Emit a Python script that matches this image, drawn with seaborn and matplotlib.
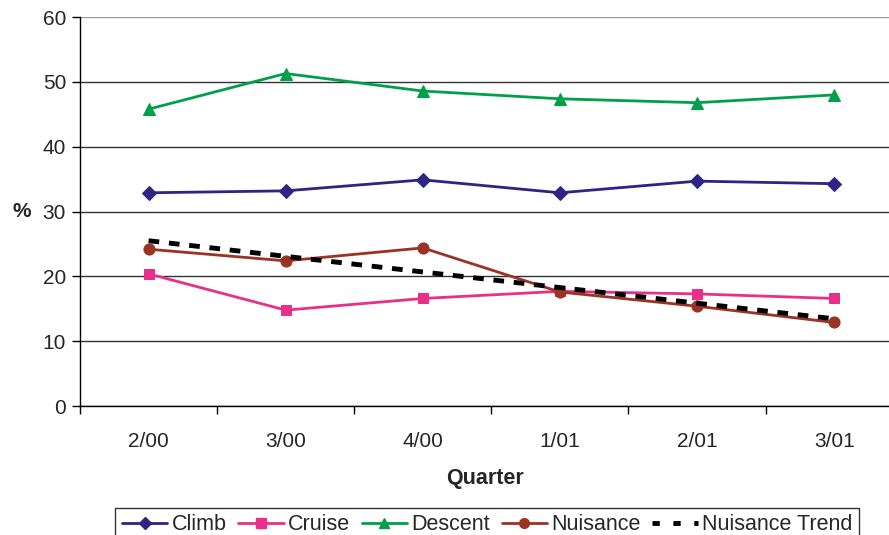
import numpy as np
import pandas as pd
import seaborn as sns
import matplotlib.pyplot as plt
from matplotlib.lines import Line2D

# values
quarters = ["2/00", "3/00", "4/00", "1/01", "2/01", "3/01"]
climb = [32.9, 33.2, 34.9, 32.9, 34.7, 34.3]
cruise = [20.4, 14.8, 16.6, 17.7, 17.3, 16.6]
descent = [45.8, 51.3, 48.6, 47.4, 46.8, 48.0]
nuisance = [24.2, 22.4, 24.4, 17.6, 15.4, 12.9]

idx = np.arange(len(quarters))
# linear trend of the nuisance series (like the Excel trendline)
slope, intercept = np.polyfit(idx, nuisance, 1)
nuisance_trend = intercept + slope * idx

sns.set_style("white")
plt.rcParams["font.family"] = ["Liberation Sans", "DejaVu Sans"]

fig = plt.figure(figsize=(8.89, 5.35), dpi=100)
ax = fig.add_axes([0.09, 0.241, 0.91, 0.727])

series = [
    ("Climb", climb, "#2E2483", "D", 7),
    ("Cruise", cruise, "#E8308A", "s", 7.5),
    ("Descent", descent, "#00A04A", "^", 8),
    ("Nuisance", nuisance, "#9B3324", "o", 8),
]
handles = []
for name, vals, col, mk, ms in series:
    sns.lineplot(x=idx, y=vals, ax=ax, color=col, marker=mk, markersize=ms,
                 markeredgecolor=col, linewidth=2)
    handles.append(Line2D([], [], color=col, marker=mk, markersize=ms - 1,
                          markeredgecolor=col, linewidth=2, label=name))

sns.lineplot(x=idx, y=nuisance_trend, ax=ax, color="black", linewidth=3.5,
             linestyle=(0, (2.2, 2)))
handles.append(Line2D([], [], color="black", linewidth=3.5,
                      linestyle=(0, (1.5, 2.8)), label="Nuisance Trend"))

ax.set_ylim(0, 60)
ax.set_xlim(-0.5, 5.4)
ax.set_yticks(range(0, 61, 10))
ax.yaxis.grid(True, color="#333333", linewidth=1)
ax.get_ygridlines()[-1].set_color("#999999")
ax.set_axisbelow(True)

# category labels centred, tick marks between categories
ax.set_xticks(np.arange(-0.5, 5.5, 1))
ax.set_xticklabels([])
ax.set_xticks(idx, minor=True)
ax.set_xticklabels(quarters, minor=True)
ax.tick_params(axis="x", which="major", direction="out", length=6, color="black", width=1)
ax.tick_params(axis="x", which="minor", length=0, pad=19, labelsize=15)
ax.tick_params(axis="y", direction="out", length=6, color="black", width=1, labelsize=15, pad=4)
ax.tick_params(left=True, bottom=True, which="both")

for s in ["top", "right"]:
    ax.spines[s].set_visible(False)
for s in ["left", "bottom"]:
    ax.spines[s].set_color("black")
    ax.spines[s].set_linewidth(1)

ax.set_xlabel("Quarter", fontsize=15.5, fontweight="bold", labelpad=12)
ax.set_ylabel("%", fontsize=15, fontweight="bold", rotation=0, va="center")
ax.yaxis.set_label_coords(-0.072, 0.5)

leg = fig.legend(handles=handles, loc="upper center", bbox_to_anchor=(0.548, 0.051),
                 ncol=5, frameon=True, fontsize=15.5, handlelength=2.1,
                 columnspacing=0.55, handletextpad=0.2, borderpad=0.3,
                 borderaxespad=0, fancybox=False)
leg.get_frame().set_edgecolor("black")
leg.get_frame().set_linewidth(1)

fig.savefig("out.png", dpi=100)
